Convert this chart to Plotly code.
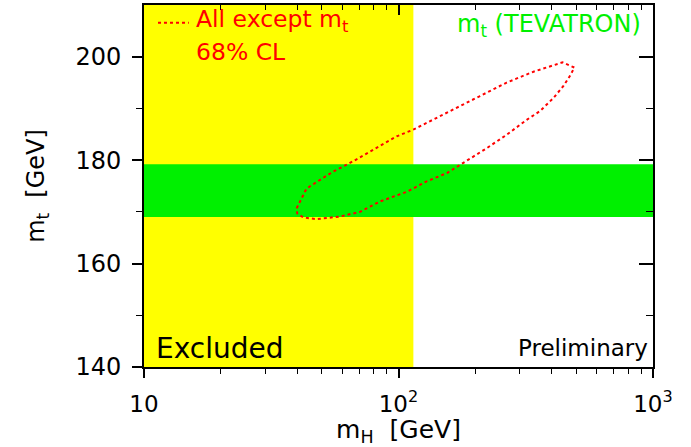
import plotly.graph_objects as go

# 68% CL contour (all except m_t)
contour_mh = [39.8, 43.5, 49.2, 55.5, 66.4, 79.6, 98.4, 114.3, 133, 164, 209, 266, 339, 441,
              491, 472, 444, 406, 360, 319, 266, 222, 185, 155, 129, 108, 84.5, 70.6, 58.9,
              47.7, 42.3, 40.0, 39.8]
contour_mt = [170.7, 174.5, 176.2, 177.8, 179.8, 182.0, 184.6, 185.9, 187.5, 189.8, 192.4,
              195.0, 197.1, 198.9, 197.9, 196.3, 194.3, 192.0, 189.5, 187.8, 184.9, 182.3,
              179.8, 177.5, 175.9, 173.9, 172.0, 170.0, 169.1, 168.6, 168.9, 169.7, 170.7]

excluded_mh = [10, 114.4]
tevatron_mt = [169.0, 179.2]

x_range = [10, 1000]
y_range = [140, 210]
x_tickvals = [10, 100, 1000]
x_ticktext = ["10", "10<sup>2</sup>", "10<sup>3</sup>"]
x_minor = [20, 30, 40, 50, 60, 70, 80, 90, 200, 300, 400, 500, 600, 700, 800, 900]
y_tickvals = [140, 160, 180, 200]
y_minor = [150, 170, 190]

FONT = "DejaVu Sans, Liberation Sans, sans-serif"
GREEN = "#00f000"

fig = go.Figure()
fig.add_trace(go.Scatter(x=contour_mh, y=contour_mt, mode="lines",
                         line=dict(color="red", width=2, dash="dot"),
                         showlegend=False, hoverinfo="skip"))

# bands
fig.add_shape(type="rect", xref="x", yref="paper", x0=excluded_mh[0], x1=excluded_mh[1],
              y0=0, y1=1, fillcolor="#ffff00", line=dict(width=0), layer="below")
fig.add_shape(type="rect", xref="paper", yref="y", x0=0, x1=1,
              y0=tevatron_mt[0], y1=tevatron_mt[1], fillcolor=GREEN, line=dict(width=0), layer="below")
# legend sample line
fig.add_shape(type="line", xref="paper", yref="paper", x0=0.0275, x1=0.088, y0=0.951, y1=0.951,
              line=dict(color="red", width=2, dash="dot"))

lx = dict(type="log", range=[1, 3], showline=True, linecolor="black", linewidth=2,
          showgrid=False, zeroline=False)
ly = dict(range=y_range, showline=True, linecolor="black", linewidth=2,
          showgrid=False, zeroline=False)

fig.update_layout(
    width=691, height=447,
    margin=dict(l=144, r=38, t=5, b=77),
    plot_bgcolor="white", paper_bgcolor="white",
    font=dict(family=FONT, color="black"),
    xaxis=dict(**lx, tickvals=x_tickvals, ticktext=x_ticktext, ticks="outside", ticklen=9,
               tickwidth=1.5, tickcolor="black", tickfont=dict(size=23), ticklabelstandoff=6,
               title=dict(text="m<sub>H</sub>&nbsp;&nbsp;[GeV]", font=dict(size=25), standoff=8),
               minor=dict(tickvals=x_minor, ticks="outside", ticklen=5, tickwidth=1.2, tickcolor="black")),
    yaxis=dict(**ly, tickvals=y_tickvals, ticks="outside", ticklen=10, tickwidth=1.5,
               tickcolor="black", tickfont=dict(size=24), ticklabelstandoff=6,
               title=dict(text="m<sub>t</sub>&nbsp;&nbsp;[GeV]", font=dict(size=24), standoff=24),
               minor=dict(tickvals=y_minor, ticks="outside", ticklen=6, tickwidth=1.2, tickcolor="black")),
    xaxis2=dict(**lx, overlaying="x", side="top", tickvals=x_tickvals, ticks="inside", ticklen=10,
                tickwidth=1.5, tickcolor="black", showticklabels=False,
                minor=dict(tickvals=x_minor, ticks="inside", ticklen=5, tickwidth=1.2, tickcolor="black")),
    yaxis2=dict(**ly, overlaying="y", side="right", tickvals=y_tickvals, ticks="inside", ticklen=14,
                tickwidth=1.5, tickcolor="black", showticklabels=False,
                minor=dict(tickvals=y_minor, ticks="inside", ticklen=7, tickwidth=1.2, tickcolor="black")),
)
# invisible trace to activate the mirrored overlay axes
fig.add_trace(go.Scatter(x=[x_range[0]], y=[y_range[0]], xaxis="x2", yaxis="y2", mode="markers",
                         marker=dict(opacity=0), showlegend=False, hoverinfo="skip"))

ann = [
    dict(text="All except m<sub>t</sub>", x=0.099, y=0.956, xanchor="left", font=dict(size=23.5, color="red")),
    dict(text="68% CL", x=0.099, y=0.869, xanchor="left", font=dict(size=23.5, color="red")),
    dict(text="m<sub>t</sub> (TEVATRON)", x=0.981, y=0.944, xanchor="right", font=dict(size=24, color=GREEN)),
    dict(text="Excluded", x=0.019, y=0.052, xanchor="left", font=dict(size=28, color="black")),
    dict(text="Preliminary", x=0.994, y=0.052, xanchor="right", font=dict(size=23, color="black")),
]
for a in ann:
    fig.add_annotation(xref="paper", yref="paper", yanchor="middle", showarrow=False, **a)

fig.write_html("out.html", config={"displayModeBar": False},
               post_script="document.body.style.margin='0';")
